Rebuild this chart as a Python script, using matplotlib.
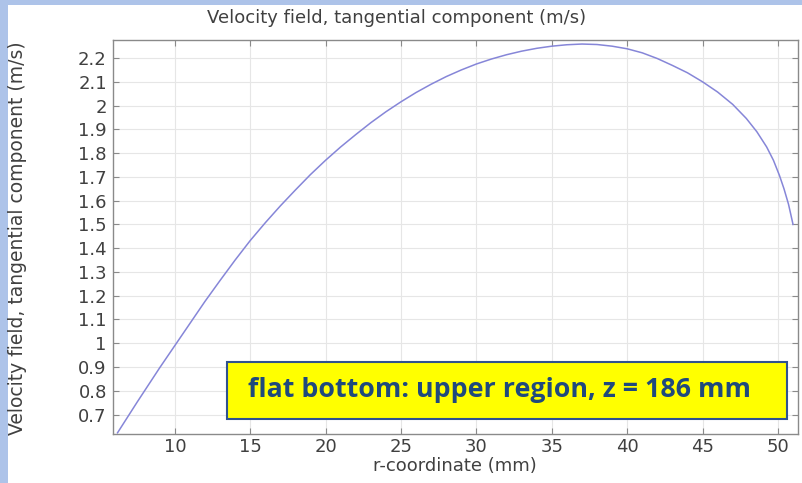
import numpy as np
import matplotlib
matplotlib.use("Agg")
import matplotlib.pyplot as plt
from matplotlib.patches import Rectangle
from matplotlib.ticker import FormatStrFormatter, MultipleLocator

# values
r_mm = [6.2, 7.5, 9, 10, 11, 12, 13, 14, 15, 16, 17, 18, 19, 20, 21, 22, 23,
        24, 25, 26, 27, 28, 29, 30, 31, 32, 33, 34, 35, 36, 37, 38, 39, 40,
        41, 42, 43, 44, 45, 46, 47, 47.9, 48.6, 49.25, 49.7, 50.1, 50.4,
        50.7, 51.0]
v_tan = [0.623, 0.752, 0.897, 0.990, 1.083, 1.176, 1.264, 1.350, 1.432,
         1.507, 1.578, 1.645, 1.710, 1.770, 1.826, 1.878, 1.928, 1.974,
         2.016, 2.055, 2.090, 2.122, 2.150, 2.175, 2.196, 2.214, 2.229,
         2.241, 2.250, 2.256, 2.259, 2.257, 2.250, 2.239, 2.222, 2.198,
         2.169, 2.138, 2.100, 2.057, 2.005, 1.946, 1.890, 1.826, 1.770,
         1.706, 1.650, 1.585, 1.500]

x_ticks = [10, 15, 20, 25, 30, 35, 40, 45, 50]
title = "Velocity field, tangential component (m/s)"
xlabel = "r-coordinate (mm)"
ylabel = "Velocity field, tangential component (m/s)"
note = "flat bottom: upper region, z = 186 mm"

W, H = 802, 483
fig = plt.figure(figsize=(W / 100, H / 100), dpi=100, facecolor="white")

# light blue frame strips (left and top)
blue = "#adc3e9"
fig.patches.append(Rectangle((0, 0), 8 / W, 1, transform=fig.transFigure,
                             facecolor=blue, edgecolor="none", zorder=0))
fig.patches.append(Rectangle((0, 1 - 5 / H), 1, 5 / H, transform=fig.transFigure,
                             facecolor=blue, edgecolor="none", zorder=0))

ax = fig.add_axes([113 / W, 1 - 434 / H, (798 - 113) / W, (434 - 40) / H])
ax.plot(r_mm, v_tan, color="#8686d8", lw=1.1)

ax.set_xlim(5.9, 51.33)
ax.set_ylim(0.618, 2.276)
ax.set_xticks(x_ticks)
ax.yaxis.set_major_locator(MultipleLocator(0.1))
ax.yaxis.set_major_formatter(FormatStrFormatter("%g"))
ax.xaxis.set_major_formatter(FormatStrFormatter("%g"))

ax.grid(True, color="#e6e6e6", lw=0.8)
ax.set_axisbelow(True)
for s in ax.spines.values():
    s.set_color("#8a8a8a")
    s.set_linewidth(1.0)
ax.tick_params(direction="in", length=4, width=0.8, color="#8a8a8a",
               top=True, right=True, labelsize=13, labelcolor="#404040")
ax.tick_params(axis="y", pad=4.5)
ax.tick_params(axis="x", pad=3)

txt = dict(fontsize=13, color="#404040", ha="center", va="center")
fig.text(397 / W, 1 - 18 / H, title, **txt)
fig.text(455 / W, 1 - 466 / H, xlabel, **txt)
fig.text(18 / W, 1 - 238 / H, ylabel, rotation=90, fontsize=13.5,
         color="#404040", ha="center", va="center")

# yellow annotation box
fig.patches.append(Rectangle((227 / W, 1 - 419 / H), 560 / W, 57 / H,
                             transform=fig.transFigure, facecolor="#ffff00",
                             edgecolor="#2f528f", lw=1.5, zorder=5))
fig.text(499 / W, 1 - 390 / H, note, ha="center", va="center",
         fontsize=19.3, fontweight="bold", color="#1f497d",
         family="Open Sans", zorder=6)

fig.savefig("out.png", dpi=100, facecolor="white")
